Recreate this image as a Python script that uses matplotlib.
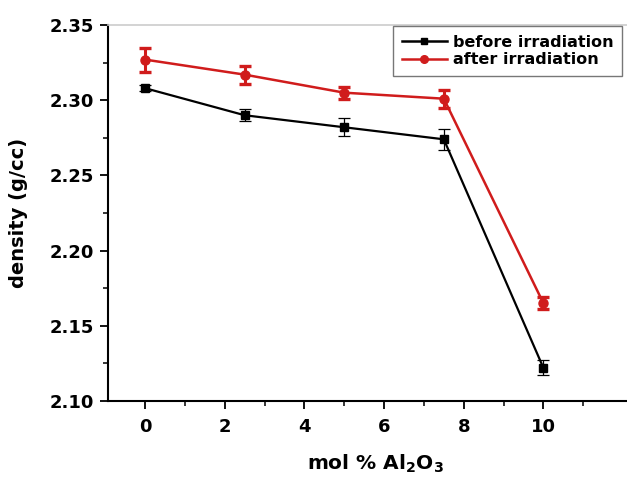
import matplotlib
matplotlib.use("Agg")
import matplotlib.pyplot as plt
from matplotlib.ticker import FixedLocator, FormatStrFormatter
from matplotlib.lines import Line2D

plt.rcParams['font.family'] = ['DejaVu Sans']
plt.rcParams['font.weight'] = 'bold'
plt.rcParams['mathtext.default'] = 'bf'

x_mol = [0, 2.5, 5, 7.5, 10]
before = [2.308, 2.290, 2.282, 2.274, 2.122]
before_err = [0.002, 0.004, 0.006, 0.007, 0.005]
after = [2.327, 2.317, 2.305, 2.301, 2.165]
after_err = [0.008, 0.006, 0.004, 0.006, 0.004]
x_ticks = [0, 2, 4, 6, 8, 10]
y_ticks = [2.10, 2.15, 2.20, 2.25, 2.30, 2.35]

RED = '#d01c1c'

fig = plt.figure(figsize=(6.27, 4.78), dpi=100)
ax = fig.add_axes([108/627, 77/478, 535/627, 376/478])

ax.errorbar(x_mol, before, yerr=before_err, color='black', marker='s', markersize=6,
            linewidth=1.6, elinewidth=0.9, capsize=4, capthick=0.9, zorder=3)
ax.errorbar(x_mol, after, yerr=after_err, color=RED, marker='o', markersize=6.5,
            linewidth=1.8, elinewidth=2.2, capsize=4.5, capthick=2.4, zorder=3)

ax.set_xlim(-0.93, 12.5)
ax.set_ylim(2.10, 2.35)
ax.xaxis.set_major_locator(FixedLocator(x_ticks))
ax.xaxis.set_minor_locator(FixedLocator([-1, 1, 3, 5, 7, 9, 11]))
ax.yaxis.set_major_locator(FixedLocator(y_ticks))
ax.yaxis.set_minor_locator(FixedLocator([2.125, 2.175, 2.225, 2.275, 2.325]))
ax.yaxis.set_major_formatter(FormatStrFormatter('%.2f'))

ax.tick_params(axis='both', which='major', direction='out', length=6, width=1.3,
               labelsize=13, pad=4)
ax.tick_params(axis='both', which='minor', direction='out', length=3.5, width=1.1)
ax.tick_params(axis='x', which='major', pad=6)
for lab in ax.get_xticklabels() + ax.get_yticklabels():
    lab.set_fontweight('bold')

ax.spines['left'].set_linewidth(1.5)
ax.spines['bottom'].set_linewidth(1.5)
ax.spines['top'].set_color('#cccccc')
ax.spines['top'].set_linewidth(1.2)
ax.spines['right'].set_visible(False)

ax.set_xlabel(r'mol % Al$_2$O$_3$', fontsize=14.5, fontweight='bold', labelpad=12)
ax.set_ylabel('density (g/cc)', fontsize=14, fontweight='bold', labelpad=16)

handles = [
    Line2D([], [], color='black', marker='s', markersize=5, linewidth=1.8),
    Line2D([], [], color=RED, marker='o', markersize=5.5, linewidth=1.8),
]
leg = ax.legend(handles, ['before irradiation', 'after irradiation'],
                loc='upper left', bbox_to_anchor=(393/627, 1 - 26/478),
                bbox_transform=fig.transFigure, borderaxespad=0,
                fancybox=False, frameon=True, handlelength=2.8,
                handletextpad=0.4, borderpad=0.55, labelspacing=0.15,
                prop={'weight': 'bold', 'size': 11.5})
leg.get_frame().set_edgecolor('#555555')
leg.get_frame().set_linewidth(1.0)

fig.savefig('out.png', dpi=100)
